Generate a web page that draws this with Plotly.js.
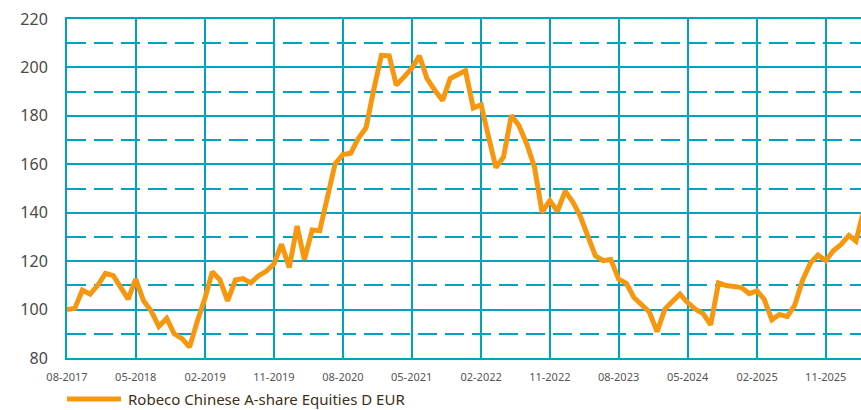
<!DOCTYPE html>
<html>
<head>
<meta charset="utf-8">
<script src="https://cdn.plot.ly/plotly-3.0.1.min.js"></script>
<style>
  html, body { margin: 0; padding: 0; background: #ffffff; }
  #chart { width: 861px; height: 410px; }
</style>
</head>
<body>
<div id="chart"></div>
<script>
// Monthly series, first value 08-2017
const seriesName = "Robeco Chinese A-share Equities D EUR";
const startYear = 2017;
const startMonth = 8;
const values = [
  100, 100.5, 108, 106.4, 110, 114.9, 114, 109, 104.3, 112.6,
  103.6, 99.5, 93, 96.4, 90, 88, 84.5, 95.3, 105, 115.6,
  112.2, 103.6, 112.2, 112.8, 111, 114, 115.8, 118.8, 127, 117.4,
  134.5, 120.6, 132.9, 132.6, 146, 160.2, 164, 164.6, 170.6, 175.1,
  190.6, 205, 204.8, 192.7, 196.1, 199.6, 204.8, 195.4, 190.6, 186.4,
  195.4, 196.8, 198.6, 183.2, 184.6, 172, 158.6, 163, 180.2, 176,
  168.5, 158.8, 140.2, 145, 140.6, 148.9, 144.3, 138.8, 129.8, 122.2,
  120.2, 120.7, 112.6, 110.8, 105, 101.6, 99, 90.9, 100.2, 103.2,
  106.4, 102.9, 100.2, 98.4, 93.7, 111, 109.9, 109.5, 109.1, 106.6,
  107.7, 104.3, 95.8, 98, 97.1, 101.8, 112.2, 119.2, 122.5, 120.2,
  124.3, 126.9, 130.6, 128.3, 141
];
const yTicks = [80, 100, 120, 140, 160, 180, 200, 220];
const xRange = ["2017-08-01", "2026-03-21"];

// month dates (x categories)
const dates = values.map((v, i) => {
  const m0 = startMonth - 1 + i;
  const y = startYear + Math.floor(m0 / 12);
  const m = (m0 % 12) + 1;
  return y + "-" + String(m).padStart(2, "0") + "-01";
});

const teal = "#00a3bf";

const trace = {
  x: dates,
  y: values,
  type: "scatter",
  mode: "lines",
  name: seriesName,
  line: { color: "#f7960f", width: 5, shape: "linear" },
  hoverinfo: "x+y"
};

const layout = {
  width: 861,
  height: 410,
  margin: { l: 67, r: 0, t: 19, b: 52, autoexpand: false },
  paper_bgcolor: "#ffffff",
  plot_bgcolor: "#ffffff",
  font: { family: "Noto Sans, Open Sans, sans-serif", color: "#4a4a4a" },
  showlegend: true,
  legend: {
    orientation: "h",
    x: -0.0063,
    xanchor: "left",
    y: -0.122,
    yanchor: "middle",
    font: { size: 15, color: "#3b3020" },
    itemwidth: 56,
    bgcolor: "rgba(0,0,0,0)"
  },
  xaxis: {
    type: "date",
    range: xRange,
    tick0: "2017-08-01",
    dtick: "M9",
    tickformat: "%m-%Y",
    showgrid: true,
    gridcolor: teal,
    gridwidth: 2,
    showline: true,
    linecolor: teal,
    linewidth: 2,
    mirror: true,
    ticks: "",
    ticklabelstandoff: 8,
    tickfont: { size: 11, color: "#555555" },
    zeroline: false,
    fixedrange: true
  },
  yaxis: {
    range: [80, 220],
    tickvals: yTicks,
    showgrid: true,
    gridcolor: teal,
    gridwidth: 2,
    minor: {
      dtick: 10,
      tick0: 80,
      showgrid: true,
      gridcolor: teal,
      gridwidth: 2,
      griddash: "19px,8px"
    },
    showline: true,
    linecolor: teal,
    linewidth: 2,
    ticks: "",
    ticklabelstandoff: 14,
    tickfont: { size: 16, color: "#4a4a4a" },
    zeroline: false,
    fixedrange: true
  }
};

Plotly.newPlot("chart", [trace], layout, { displayModeBar: false, staticPlot: true }).then(function (gd) {
  // lengthen the legend line sample to match the reference swatch
  gd.querySelectorAll(".legendlines path").forEach(function (p) {
    p.setAttribute("d", "M5,0h54");
  });
});
</script>
</body>
</html>
